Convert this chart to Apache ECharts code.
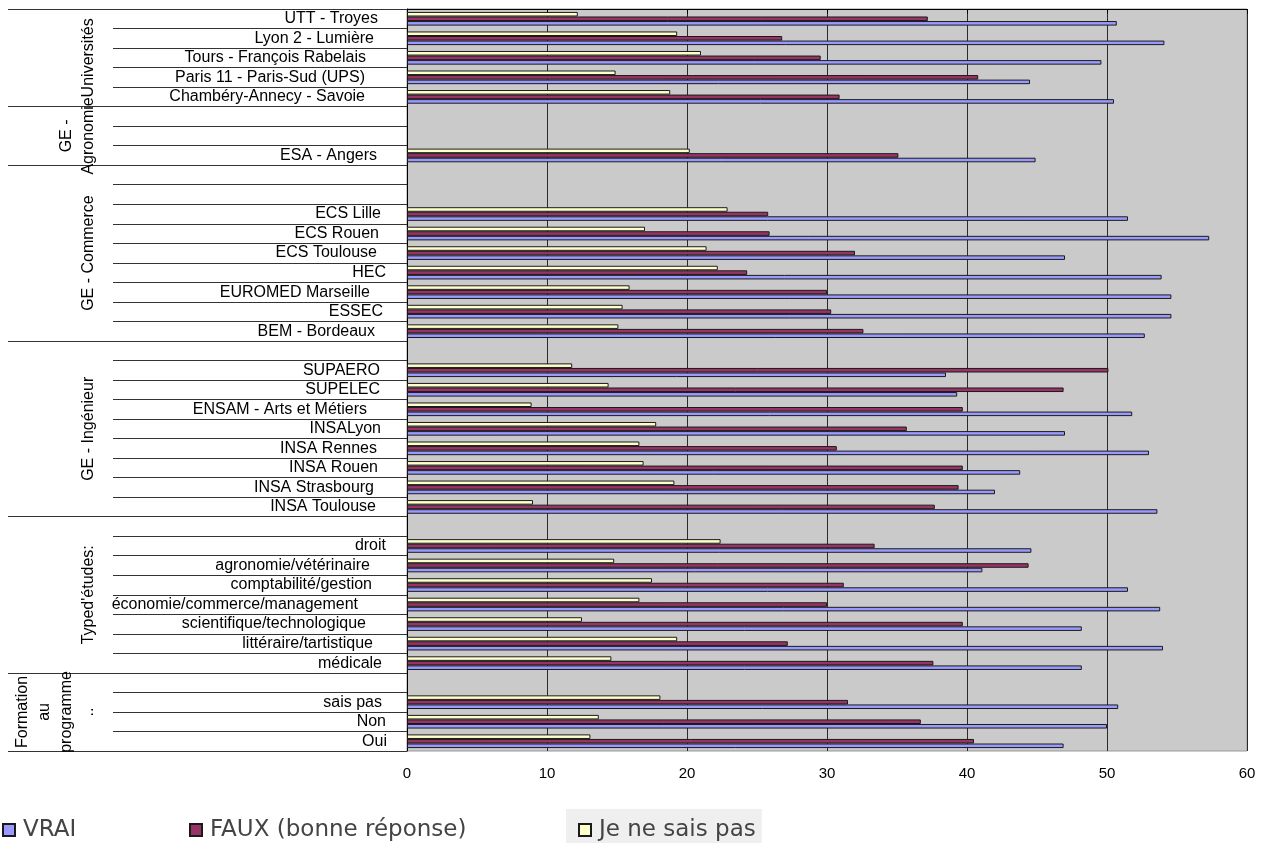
<!DOCTYPE html>
<html>
<head>
<meta charset="utf-8">
<script src="https://cdn.jsdelivr.net/npm/echarts@6/dist/echarts.min.js"></script>
<style>
html,body{margin:0;padding:0;background:#fff;}
#chart{width:1261px;height:843px;}
</style>
</head>
<body>
<div id="chart"></div>
<script>
var categories = ['UTT - Troyes','Lyon 2 - Lumière','Tours - François Rabelais','Paris 11 - Paris-Sud (UPS)','Chambéry-Annecy - Savoie',
  '','','ESA - Angers',
  '','','ECS Lille','ECS Rouen','ECS Toulouse','HEC','EUROMED Marseille','ESSEC','BEM - Bordeaux',
  '','SUPAERO','SUPELEC','ENSAM - Arts et Métiers','INSALyon','INSA Rennes','INSA Rouen','INSA Strasbourg','INSA Toulouse',
  '','droit','agronomie/vétérinaire','comptabilité/gestion','économie/commerce/management','scientifique/technologique','littéraire/tartistique','médicale',
  '','sais pas','Non','Oui'];

var groupNames = ['Universités', 'GE -\nAgronomie', 'GE - Commerce', 'GE - Ingénieur', "Typed'études:", 'Formation\nau\nprogramme\n..'];
var groupSizes = [5, 3, 9, 9, 8, 4];

var seriesNames = ['VRAI', 'FAUX (bonne réponse)', 'Je ne sais pas'];

var vrai = [50.7, 54.1, 49.6, 44.5, 50.5, null, null, 44.9, null, null, 51.5, 57.3, 47.0, 53.9, 54.6, 54.6, 52.7, null, 38.5, 39.3, 51.8, 47.0, 53.0, 43.8, 42.0, 53.6, null, 44.6, 41.1, 51.5, 53.8, 48.2, 54.0, 48.2, null, 50.8, 50.0, 46.9];
var faux = [37.2, 26.8, 29.55, 40.8, 30.9, null, null, 35.1, null, null, 25.8, 25.9, 32.0, 24.3, 30.0, 30.3, 32.6, null, 50.1, 46.9, 39.7, 35.7, 30.7, 39.7, 39.4, 37.7, null, 33.4, 44.4, 31.2, 30.0, 39.7, 27.2, 37.6, null, 31.5, 36.7, 40.5];
var jnsp = [12.2, 19.3, 21.0, 14.9, 18.8, null, null, 20.2, null, null, 22.9, 17.0, 21.4, 22.2, 15.9, 15.4, 15.1, null, 11.8, 14.4, 8.9, 17.8, 16.6, 16.9, 19.1, 9.0, null, 22.4, 14.8, 17.5, 16.6, 12.5, 19.3, 14.6, null, 18.1, 13.7, 13.1];

var xTicks = [0, 10, 20, 30, 40, 50, 60];

// group boundaries & centres (in category units)
var groupBounds = [0];
var groupCenters = [];
groupSizes.forEach(function (s, i) {
  var start = groupBounds[groupBounds.length - 1];
  groupCenters.push(start + s / 2);
  groupBounds.push(start + s);
});

var FONT = '"Liberation Sans", Arial, sans-serif';
var ctx = document.createElement('canvas').getContext('2d');
ctx.font = '16px "Liberation Sans"';
var rich = {};
categories.forEach(function (c, i) {
  var w = ctx.measureText(c).width;
  rich['l' + i] = { fontSize: 16, fontFamily: FONT, color: '#000', padding: [0, Math.round(w * 0.13), 0, 0] };
});

var chart = echarts.init(document.getElementById('chart'), null, { renderer: 'canvas' });

var colors = { 'VRAI': '#9999ff', 'FAUX (bonne réponse)': '#993366', 'Je ne sais pas': '#ffffcc' };

function mkSeries(name, data) {
  return {
    name: name, type: 'bar', yAxisIndex: 0, data: data,
    barGap: '0%', barCategoryGap: '30%',
    itemStyle: { color: colors[name], borderColor: '#1a1a1a', borderWidth: 1 },
    emphasis: { disabled: true },
    animation: false
  };
}

function mkLegend(name, left, bg) {
  return {
    data: [name], left: left, top: bg ? 809 : 817, orient: 'horizontal',
    itemWidth: 12, itemHeight: 12, icon: 'rect',
    padding: bg ? [8, 6, 8, 12] : 0,
    backgroundColor: bg || 'transparent',
    selectedMode: false,
    textStyle: { fontSize: 23, fontFamily: '"DejaVu Sans", sans-serif', color: '#444', lineHeight: 26, padding: [0, 0, 0, 3] }
  };
}

chart.setOption({
  animation: false,
  backgroundColor: '#ffffff',
  grid: {
    left: 407, right: 14, top: 9, bottom: 92,
    show: true, backgroundColor: '#cacaca', borderColor: '#999999', borderWidth: 1
  },
  legend: [
    mkLegend('VRAI', 2, null),
    mkLegend('FAUX (bonne réponse)', 189, null),
    mkLegend('Je ne sais pas', 566, '#efefef')
  ],
  xAxis: {
    type: 'value', min: xTicks[0], max: xTicks[xTicks.length - 1], interval: 10,
    axisLine: { show: true, lineStyle: { color: '#000', width: 1 } },
    axisTick: { show: true, length: 5, lineStyle: { color: '#000' } },
    axisLabel: { fontSize: 15, fontFamily: FONT, color: '#000', margin: 15 },
    splitLine: { show: true, lineStyle: { color: '#2a2a2a', width: 1 } }
  },
  yAxis: [
    {
      type: 'category', data: categories, inverse: true, position: 'left',
      axisLine: { show: true, onZero: false, lineStyle: { color: '#000', width: 1 } },
      axisTick: { show: true, length: 294, interval: 0, lineStyle: { color: '#333', width: 1 } },
      axisLabel: {
        interval: 0, margin: 17, align: 'right',
        formatter: function (v, i) { return v ? '{l' + i + '|' + v + '}' : ''; },
        rich: rich
      },
      splitLine: { show: false }
    },
    {
      type: 'value', min: 0, max: categories.length, inverse: true, position: 'left', offset: 0,
      axisLine: { show: false },
      axisTick: { show: true, customValues: groupBounds, length: 399, lineStyle: { color: '#333', width: 1 } },
      axisLabel: {
        customValues: groupCenters, rotate: 90, margin: 307,
        align: 'center', verticalAlign: 'bottom',
        fontSize: 16, fontFamily: FONT, color: '#000', lineHeight: 22,
        formatter: function (v) {
          for (var i = 0; i < groupCenters.length; i++) {
            if (Math.abs(groupCenters[i] - v) < 1e-6) return groupNames[i];
          }
          return '';
        }
      },
      splitLine: { show: false }
    }
  ],
  series: [
    mkSeries('Je ne sais pas', jnsp),
    mkSeries('FAUX (bonne réponse)', faux),
    mkSeries('VRAI', vrai)
  ]
});
</script>
</body>
</html>
